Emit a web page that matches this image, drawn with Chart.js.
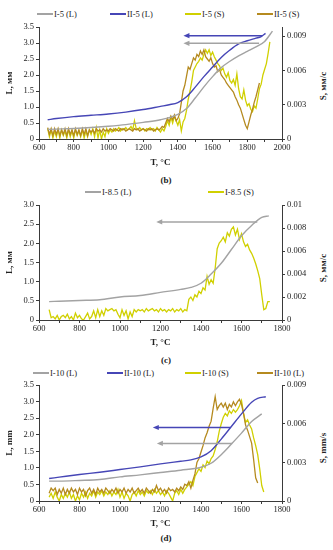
<!DOCTYPE html>
<html><head><meta charset="utf-8">
<script src="https://cdn.jsdelivr.net/npm/chart.js@4.4.1/dist/chart.umd.min.js"></script>
<style>
html,body{margin:0;padding:0;background:#fff;}
#page{position:relative;width:333px;height:550px;overflow:hidden;font-family:'Liberation Serif',serif;color:#222;background:#fff;}
canvas{position:absolute;left:0;}
.leg{position:absolute;font-size:8.5px;white-space:nowrap;line-height:10px;transform:translateY(-50%);}
.leg i{display:inline-block;width:16px;height:2px;vertical-align:middle;margin-right:1px;position:relative;top:-1px;}
.lab{position:absolute;font-weight:bold;font-size:9px;transform:translate(-50%,-50%);white-space:nowrap;}
.rt{position:absolute;font-weight:bold;font-size:9px;transform:translate(-50%,-50%) rotate(-90deg);white-space:nowrap;}
</style></head><body><div id="page"></div>
<script>
// ---------- DATA ----------
const T_grid = [650,660,670,680,690,700,710,720,730,740,
750,760,770,780,790,800,810,820,830,840,
850,860,870,880,890,900,910,920,930,940,
950,960,970,980,990,1000,1010,1020,1030,1040,
1050,1060,1070,1080,1090,1100,1110,1120,1130,1140,
1150,1160,1170,1180,1190,1200,1210,1220,1230,1240,
1250,1260,1270,1280,1290,1300,1310,1320,1330,1340,
1350,1360,1370,1380,1390,1400,1410,1420,1430,1440,
1450,1460,1470,1480,1490,1500,1510,1520,1530,1540,
1550,1560,1570,1580,1590,1600,1610,1620,1630,1640,
1650,1660,1670,1680,1690,1700,1710,1720,1730,1740,
1750,1760,1770,1780,1790,1800,1810,1820,1830,1840,
1850,1860,1870,1880,1890,1900,1910,1920,1930];

// Panel (b)
const b_I5_L_T = [650,700,800,900,1000,1100,1200,1300,1400,1450,1500,1550,1600,1650,1700,1750,1800,1850,1900,1945];
const b_I5_L   = [0.30,0.31,0.33,0.36,0.40,0.45,0.52,0.60,0.77,0.95,1.28,1.63,1.95,2.23,2.43,2.60,2.74,2.88,3.05,3.37];
const b_II5_L_T = [650,700,800,900,1000,1100,1200,1300,1350,1400,1450,1500,1550,1600,1650,1700,1750,1800,1850,1880,1905];
const b_II5_L   = [0.60,0.64,0.70,0.74,0.78,0.84,0.92,1.02,1.07,1.14,1.32,1.62,1.95,2.25,2.55,2.78,2.97,3.07,3.15,3.20,3.30];
const b_I5_S = [
0.0009,0.0002,0.0008,0.0001,0.0007,0.0002,0.0008,0.0001,0.0008,0.0003,
0.0007,0.0001,0.0008,0.0002,0.0007,0.0001,0.0008,0.0003,0.0007,0.0002,
0.0008,0.0001,0.0007,0.0002,0.0008,0.0004,0.0009,0.0002,0.0010,0.0001,
0.0008,0.0000,0.0006,0.0002,0.0009,0.0005,0.0008,0.0006,0.0009,0.0007,
0.0008,0.0010,0.0007,0.0009,0.0008,0.0010,0.0008,0.0009,0.0011,0.0008,
0.0016,0.0009,0.0008,0.0010,0.0008,0.0009,0.0007,0.0009,0.0008,0.0010,
0.0008,0.0009,0.0007,0.0010,0.0008,0.0006,0.0009,0.0007,0.0011,0.0016,
0.0012,0.0019,0.0014,0.0020,0.0016,0.0012,0.0017,0.0007,0.0015,0.0018,
0.0025,0.0035,0.0042,0.0050,0.0060,0.0063,0.0066,0.0068,0.0071,0.0069,
0.0074,0.0078,0.0075,0.0078,0.0073,0.0076,0.0072,0.0069,0.0066,0.0064,
0.0060,0.0062,0.0057,0.0054,0.0058,0.0051,0.0049,0.0052,0.0047,0.0057,
0.0044,0.0037,0.0035,0.0043,0.0034,0.0029,0.0031,0.0026,0.0024,0.0029,
0.0027,0.0035,0.0044,0.0048,0.0056,0.0061,0.0066,0.0075,0.0085];
const b_II5_S = [
0.0010,0.0004,0.0009,0.0003,0.0009,0.0004,0.0009,0.0003,0.0008,0.0004,
0.0009,0.0003,0.0009,0.0004,0.0008,0.0003,0.0009,0.0004,0.0008,0.0003,
0.0009,0.0004,0.0009,0.0003,0.0008,0.0006,0.0008,0.0005,0.0009,0.0007,
0.0008,0.0006,0.0009,0.0007,0.0008,0.0007,0.0009,0.0008,0.0007,0.0009,
0.0008,0.0007,0.0009,0.0008,0.0009,0.0007,0.0008,0.0009,0.0008,0.0007,
0.0009,0.0008,0.0009,0.0007,0.0008,0.0009,0.0008,0.0007,0.0009,0.0008,
0.0009,0.0007,0.0008,0.0009,0.0008,0.0009,0.0011,0.0010,0.0014,0.0018,
0.0015,0.0020,0.0017,0.0021,0.0016,0.0018,0.0022,0.0032,0.0042,0.0047,
0.0055,0.0063,0.0061,0.0066,0.0071,0.0069,0.0074,0.0072,0.0077,0.0074,
0.0078,0.0072,0.0070,0.0068,0.0071,0.0066,0.0063,0.0064,0.0059,0.0061,
0.0056,0.0054,0.0052,0.0049,0.0047,0.0045,0.0043,0.0041,0.0037,0.0034,
0.0030,0.0027,0.0022,0.0017,0.0012,0.0009,0.0015,0.0021,0.0026,0.0032,
0.0037,0.0043,0.0049];
const b_arrow_from = [1887,1868];
const b_arrow_to   = [1432,1432];
const b_arrow_L    = [3.23,2.99];

// Panel (c)
const c_I85_L_T = [650,700,800,900,1000,1100,1200,1300,1350,1400,1450,1500,1550,1600,1650,1700,1735];
const c_I85_L   = [0.48,0.49,0.51,0.53,0.60,0.64,0.72,0.80,0.85,0.96,1.20,1.48,1.84,2.20,2.47,2.68,2.72];
const c_I85_S = [
0.0009,0.0002,0.0003,0.0001,0.0004,0.0000,0.0003,0.0004,0.0002,0.0005,
0.0001,0.0003,0.0000,0.0006,0.0002,0.0004,0.0001,0.0000,0.0003,0.0006,
0.0001,0.0003,0.0008,0.0002,0.0009,0.0003,0.0008,0.0004,0.0010,0.0008,
0.0009,0.0010,0.0008,0.0009,0.0005,0.0002,0.0009,0.0004,0.0008,0.0001,
0.0007,0.0003,0.0009,0.0007,0.0009,0.0008,0.0009,0.0007,0.0010,0.0008,
0.0009,0.0010,0.0008,0.0009,0.0007,0.0010,0.0008,0.0009,0.0007,0.0009,
0.0008,0.0010,0.0007,0.0009,0.0008,0.0010,0.0007,0.0009,0.0008,0.0018,
0.0020,0.0017,0.0022,0.0020,0.0025,0.0023,0.0028,0.0026,0.0038,0.0031,
0.0035,0.0032,0.0045,0.0062,0.0067,0.0069,0.0072,0.0068,0.0076,0.0073,
0.0079,0.0081,0.0074,0.0079,0.0070,0.0075,0.0068,0.0064,0.0066,0.0061,
0.0058,0.0054,0.0049,0.0043,0.0036,0.0022,0.0009,0.0010,0.0016,0.0016];
const c_arrow_from = [1678];
const c_arrow_to   = [1179];
const c_arrow_L    = [2.56];

// Panel (d)
const d_I10_L_T = [650,700,800,900,1000,1100,1200,1300,1400,1450,1500,1550,1600,1650,1700];
const d_I10_L   = [0.60,0.60,0.62,0.65,0.73,0.79,0.86,0.93,1.02,1.14,1.40,1.72,2.05,2.40,2.63];
const d_II10_L_T = [650,700,800,900,1000,1100,1200,1300,1350,1400,1450,1500,1550,1600,1650,1680,1720];
const d_II10_L   = [0.68,0.72,0.80,0.87,0.95,1.03,1.12,1.20,1.24,1.33,1.52,1.87,2.25,2.63,2.98,3.10,3.15];
const d_I10_S = [
0.0003,0.0006,0.0002,0.0007,0.0003,0.0000,0.0005,0.0002,0.0006,0.0003,
0.0007,0.0002,0.0005,0.0000,0.0004,0.0001,0.0006,0.0003,0.0007,0.0002,
0.0006,0.0004,0.0008,0.0003,0.0007,0.0005,0.0008,0.0004,0.0007,0.0005,
0.0008,0.0004,0.0007,0.0005,0.0009,0.0003,0.0007,0.0002,0.0006,0.0004,
0.0000,0.0005,0.0007,0.0004,0.0008,0.0005,0.0007,0.0004,0.0008,0.0006,
0.0008,0.0005,0.0009,0.0006,0.0008,0.0005,0.0007,0.0004,0.0008,0.0006,
0.0003,0.0000,0.0006,0.0008,0.0005,0.0009,0.0006,0.0009,0.0011,0.0013,
0.0015,0.0012,0.0019,0.0022,0.0025,0.0023,0.0028,0.0026,0.0031,0.0029,
0.0033,0.0035,0.0040,0.0046,0.0054,0.0060,0.0065,0.0068,0.0066,0.0070,
0.0068,0.0071,0.0069,0.0071,0.0074,0.0078,0.0068,0.0061,0.0063,0.0059,
0.0056,0.0049,0.0043,0.0036,0.0025,0.0012,0.0007];
const d_II10_S = [
0.0006,0.0010,0.0008,0.0010,0.0005,0.0009,0.0006,0.0010,0.0005,0.0009,
0.0006,0.0010,0.0007,0.0009,0.0005,0.0010,0.0007,0.0009,0.0004,0.0008,
0.0010,0.0006,0.0009,0.0005,0.0010,0.0007,0.0009,0.0006,0.0010,0.0008,
0.0006,0.0009,0.0007,0.0010,0.0006,0.0009,0.0007,0.0010,0.0006,0.0009,
0.0007,0.0010,0.0006,0.0008,0.0010,0.0007,0.0009,0.0006,0.0010,0.0008,
0.0006,0.0009,0.0007,0.0012,0.0008,0.0010,0.0007,0.0009,0.0006,0.0010,
0.0008,0.0009,0.0007,0.0010,0.0008,0.0011,0.0009,0.0013,0.0012,0.0015,
0.0010,0.0016,0.0021,0.0030,0.0033,0.0038,0.0043,0.0049,0.0053,0.0058,
0.0062,0.0072,0.0081,0.0071,0.0074,0.0076,0.0073,0.0076,0.0071,0.0075,
0.0073,0.0077,0.0074,0.0077,0.0079,0.0075,0.0068,0.0059,0.0055,0.0050,
0.0045,0.0032,0.0018,0.0014];
const d_arrow_from = [1546,1554];
const d_arrow_to   = [1162,1182];
const d_arrow_L    = [2.22,1.74];

// ---------- STYLE ----------
const C_GRAY = '#a3a3a3', C_BLUE = '#4646b6', C_YEL = '#d0d000', C_GOLD = '#b58a1f';
const AXIS = '#3a3a3a', TXT = '#222';

Chart.defaults.font.family = "'Liberation Serif', serif";
Chart.defaults.color = TXT;

const arrowPlugin = {
  id: 'arrows',
  afterDatasetsDraw(chart, args, opts) {
    const ctx = chart.ctx, xs = chart.scales.x, ys = chart.scales.yL;
    (opts.items || []).forEach(a => {
      const x1 = xs.getPixelForValue(a.from), x2 = xs.getPixelForValue(a.to), y = ys.getPixelForValue(a.y);
      ctx.save();
      ctx.strokeStyle = a.color; ctx.fillStyle = a.color; ctx.lineWidth = 1.5;
      ctx.beginPath(); ctx.moveTo(x1, y); ctx.lineTo(x2 + 4, y); ctx.stroke();
      ctx.beginPath(); ctx.moveTo(x2, y); ctx.lineTo(x2 + 6, y - 2.6); ctx.lineTo(x2 + 6, y + 2.6); ctx.closePath(); ctx.fill();
      ctx.restore();
    });
  }
};

const page = document.getElementById('page');
function addDiv(cls, html, left, top) {
  const d = document.createElement('div');
  d.className = cls; d.innerHTML = html;
  d.style.left = left + 'px'; d.style.top = top + 'px';
  page.appendChild(d); return d;
}

function makePanel(p) {
  // legend
  p.legend.forEach((it, i) => addDiv('leg', '<i style="background:' + it.color + '"></i>' + it.label, p.legendX[i], p.legendY));
  addDiv('lab', p.tag, 166, p.tagY);
  addDiv('rt', p.sTitle, 323, p.sTitleY);
  const cv = document.createElement('canvas');
  cv.width = 333; cv.height = p.h;
  cv.style.top = p.top + 'px'; cv.style.width = '333px'; cv.style.height = p.h + 'px';
  page.appendChild(cv);
  const datasets = [];
  p.lines.forEach(s => datasets.push({
    data: s.T.map((t, i) => ({x: t, y: s.L[i]})), yAxisID: 'yL', borderColor: s.color,
    borderWidth: 1.4, pointRadius: 0, cubicInterpolationMode: 'monotone', order: 0
  }));
  p.speeds.forEach(s => datasets.push({
    data: s.S.map((v, i) => ({x: T_grid[i], y: v})), yAxisID: 'yS', borderColor: s.color,
    borderWidth: 1.3, pointRadius: 0, tension: 0, order: s.order
  }));
  const tickFont = {size: 8.5};
  const titleFont = {size: 9, weight: 'bold'};
  new Chart(cv, {
    type: 'line',
    data: {datasets},
    plugins: [arrowPlugin],
    options: {
      responsive: false, animation: false, devicePixelRatio: 1,
      layout: {padding: {top: p.padTop, left: 0, right: 0, bottom: 0}},
      plugins: {legend: {display: false}, tooltip: {enabled: false},
        arrows: {items: p.arrows}},
      scales: {
        x: {type: 'linear', min: 600, max: p.xMax,
          afterFit(s) { s.height = p.xAxisH; },
          ticks: {stepSize: 100, autoSkip: false, maxRotation: 0, padding: 1, font: tickFont, color: TXT,
            callback: v => (v % 200 === 0 ? String(v) : '')},
          grid: {drawOnChartArea: false, drawTicks: true, tickLength: 3, color: AXIS},
          border: {color: AXIS, width: 1},
          title: {display: true, text: 'T, °C', font: titleFont, color: TXT, padding: {top: 0, bottom: 3.6}}},
        yL: {type: 'linear', position: 'left', min: 0, max: p.lMax,
          afterFit(s) { s.width = 39; },
          ticks: {stepSize: 0.5, padding: 2, font: tickFont, color: TXT},
          grid: {drawOnChartArea: false, tickLength: 3, color: AXIS},
          border: {color: AXIS, width: 1},
          title: {display: true, text: p.lTitle, font: titleFont, color: TXT, padding: {top: 4.5, bottom: 0}}},
        yS: {type: 'linear', position: 'right', min: 0, max: p.sMax,
          afterFit(s) { s.width = 51; },
          ticks: {stepSize: p.sStep, includeBounds: false, padding: 2, font: tickFont, color: TXT,
            callback: v => String(+v.toFixed(4))},
          grid: {drawOnChartArea: false, tickLength: 3, color: AXIS},
          border: {color: AXIS, width: 1}}
      }
    }
  });
}

makePanel({
  top: 18, h: 154, padTop: 9, xAxisH: 33, xMax: 2000, lMax: 3.5, sMax: 0.0098, sStep: 0.003,
  lTitle: 'L, мм', sTitle: 'S, мм/с', sTitleY: 86, tag: '(b)', tagY: 180,
  legendY: 14, legendX: [37, 110, 185, 257],
  legend: [{label: 'I-5 (L)', color: C_GRAY}, {label: 'II-5 (L)', color: C_BLUE},
           {label: 'I-5 (S)', color: C_YEL}, {label: 'II-5 (S)', color: C_GOLD}],
  lines: [{T: b_I5_L_T, L: b_I5_L, color: C_GRAY}, {T: b_II5_L_T, L: b_II5_L, color: C_BLUE}],
  speeds: [{S: b_I5_S, color: C_YEL, order: 2}, {S: b_II5_S, color: C_GOLD, order: 1}],
  arrows: [{from: b_arrow_from[0], to: b_arrow_to[0], y: b_arrow_L[0], color: C_BLUE},
           {from: b_arrow_from[1], to: b_arrow_to[1], y: b_arrow_L[1], color: C_GRAY}]
});

makePanel({
  top: 198, h: 154, padTop: 7, xAxisH: 32, xMax: 1800, lMax: 3, sMax: 0.01, sStep: 0.002,
  lTitle: 'L, мм', sTitle: 'S, мм/с', sTitleY: 268, tag: '(c)', tagY: 360,
  legendY: 192, legendX: [85, 208],
  legend: [{label: 'I-8.5 (L)', color: C_GRAY}, {label: 'I-8.5 (S)', color: C_YEL}],
  lines: [{T: c_I85_L_T, L: c_I85_L, color: C_GRAY}],
  speeds: [{S: c_I85_S, color: C_YEL, order: 2}],
  arrows: [{from: c_arrow_from[0], to: c_arrow_to[0], y: c_arrow_L[0], color: C_GRAY}]
});

makePanel({
  top: 378, h: 155, padTop: 6, xAxisH: 32, xMax: 1800, lMax: 3.5, sMax: 0.009, sStep: 0.003,
  lTitle: 'L, mm', sTitle: 'S, mm/s', sTitleY: 448, tag: '(d)', tagY: 538,
  legendY: 373, legendX: [33, 107, 185, 257],
  legend: [{label: 'I-10 (L)', color: C_GRAY}, {label: 'II-10 (L)', color: C_BLUE},
           {label: 'I-10 (S)', color: C_YEL}, {label: 'II-10 (L)', color: C_GOLD}],
  lines: [{T: d_I10_L_T, L: d_I10_L, color: C_GRAY}, {T: d_II10_L_T, L: d_II10_L, color: C_BLUE}],
  speeds: [{S: d_I10_S, color: C_YEL, order: 2}, {S: d_II10_S, color: C_GOLD, order: 1}],
  arrows: [{from: d_arrow_from[0], to: d_arrow_to[0], y: d_arrow_L[0], color: C_BLUE},
           {from: d_arrow_from[1], to: d_arrow_to[1], y: d_arrow_L[1], color: C_GRAY}]
});
</script></body></html>
